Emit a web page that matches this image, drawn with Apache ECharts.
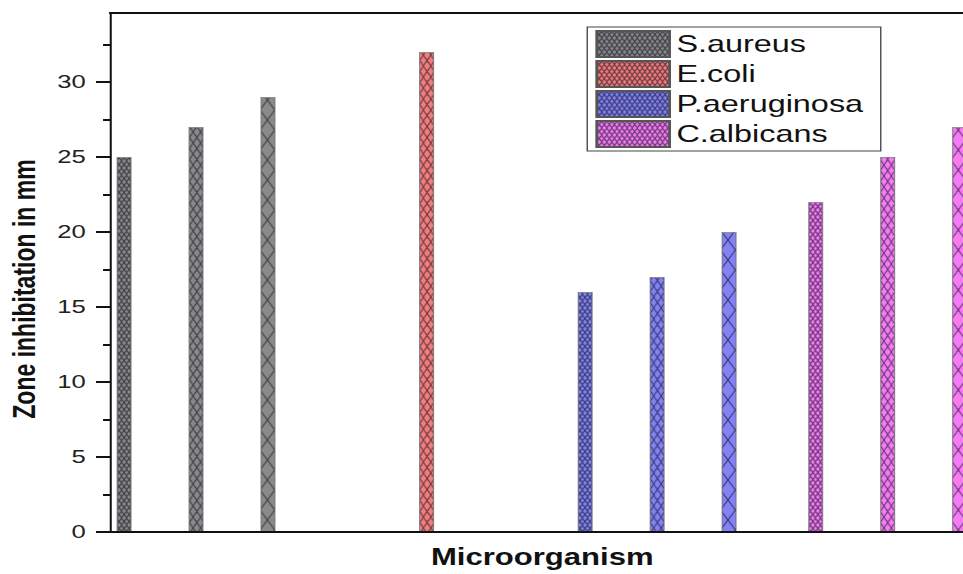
<!DOCTYPE html>
<html>
<head>
<meta charset="utf-8">
<script src="https://cdn.jsdelivr.net/npm/echarts@6/dist/echarts.min.js"></script>
<style>
  html, body { margin: 0; padding: 0; background: #fff; overflow: hidden; }
  #wrap { width: 963px; height: 574px; overflow: hidden; position: relative; }
  /* the figure is laid out narrow and stretched horizontally; its right end runs past the frame */
  #chart { width: 780px; height: 574px; transform: scaleX(1.3506); transform-origin: 0 0; }
</style>
</head>
<body>
<div id="wrap"><div id="chart"></div></div>
<script>
// Zone of inhibition (mm) for each microorganism, three samples per organism
const categories = ['S.aureus', 'E.coli', 'P.aeruginosa', 'C.albicans'];
const sample1 = [25, null, 16, 22];
const sample2 = [27, 32, 17, 25];
const sample3 = [29, null, 20, 27];
const yTicks = [0, 5, 10, 15, 20, 25, 30];

const FONT = '"Liberation Sans", Arial, sans-serif';
const fills = ['#8a8a8a', '#f47e7e', '#8282f4', '#f57cf5'];
// cross-hatch tile sizes (w, h) for the three samples: dense, medium, coarse
const hatchSizes = [[3.7, 7], [5.55, 11], [11.1, 20]];

function hatch(fill, w, h) {
  const k = 4;
  const c = document.createElement('canvas');
  c.width = Math.round(w * k);
  c.height = Math.round(h * k);
  const g = c.getContext('2d');
  g.fillStyle = fill;
  g.fillRect(0, 0, c.width, c.height);
  g.strokeStyle = 'rgba(15,15,30,0.7)';
  g.lineWidth = 0.8 * k;
  g.beginPath();
  g.moveTo(0, 0); g.lineTo(c.width, c.height);
  g.moveTo(c.width, 0); g.lineTo(0, c.height);
  g.stroke();
  return { image: c, repeat: 'repeat', scaleX: 1 / k, scaleY: 1 / k };
}

function barSeries(name, values, s) {
  return {
    name: name,
    type: 'bar',
    xAxisIndex: 0,
    yAxisIndex: 0,
    barWidth: 11.1,
    barGap: '380%',
    z: 2,
    data: values.map((v, i) => ({
      value: v == null ? '-' : v,
      itemStyle: {
        color: hatch(fills[i], hatchSizes[s][0], hatchSizes[s][1]),
        borderColor: 'rgba(110,110,110,0.8)',
        borderWidth: 0.8
      }
    }))
  };
}

// empty series that only provide the legend swatches
const legendSeries = categories.map((name, i) => ({
  name: name,
  type: 'bar',
  xAxisIndex: 1,
  yAxisIndex: 1,
  data: [],
  itemStyle: {
    color: hatch(fills[i], hatchSizes[0][0], hatchSizes[0][1]),
    borderColor: '#555',
    borderWidth: 1
  }
}));

const chart = echarts.init(document.getElementById('chart'), null, { renderer: 'svg' });

chart.setOption({
  animation: false,
  backgroundColor: '#fff',
  grid: [
    // bars
    { left: 59.8, width: 682.8, top: 13, bottom: 42 },
    // visible frame and axes
    { left: 81.5, width: 640, top: 13, bottom: 42 }
  ],
  xAxis: [
    { gridIndex: 0, type: 'category', data: categories, show: false },
    {
      gridIndex: 1, type: 'value', min: 0, max: 1, position: 'bottom', z: 5,
      axisLine: { show: true, lineStyle: { color: '#111', width: 2 } },
      axisTick: { show: false }, axisLabel: { show: false }, splitLine: { show: false },
      name: 'Microorganism', nameLocation: 'middle', nameGap: 14,
      nameTextStyle: { fontSize: 23, fontWeight: 'bold', color: '#111', fontFamily: FONT }
    },
    {
      gridIndex: 1, type: 'value', min: 0, max: 1, position: 'top', z: 5,
      axisLine: { show: true, lineStyle: { color: '#111', width: 2 } },
      axisTick: { show: false }, axisLabel: { show: false }, splitLine: { show: false }
    }
  ],
  yAxis: [
    { gridIndex: 0, type: 'value', min: 0, max: 34.6, show: false },
    {
      gridIndex: 1, type: 'value', min: 0, max: 34.6, interval: 5, z: 5,
      axisLine: { show: true, lineStyle: { color: '#111', width: 1.5 } },
      axisTick: { show: true, inside: false, length: 10.4, customValues: yTicks,
                  lineStyle: { color: '#111', width: 2 } },
      minorTick: { show: true, splitNumber: 2, length: 5.2, lineStyle: { color: '#111', width: 2 } },
      axisLabel: { customValues: yTicks, margin: 18, fontSize: 19, color: '#222', fontFamily: FONT },
      splitLine: { show: false }, minorSplitLine: { show: false }
    }
  ],
  legend: {
    data: categories,
    orient: 'vertical',
    left: 434.8,
    top: 27,
    icon: 'rect',
    itemWidth: 54,
    itemHeight: 26,
    itemGap: 2,
    padding: [3, 13, 3, 6],
    borderColor: '#444',
    borderWidth: 1,
    backgroundColor: '#fff',
    selectedMode: false,
    textStyle: { fontSize: 24, lineHeight: 24, color: '#111', fontFamily: FONT }
  },
  graphic: [{
    type: 'text',
    x: 18,
    y: 289,
    rotation: Math.PI / 2,
    style: {
      text: 'Zone inhibitation in mm',
      font: 'bold 23px ' + FONT,
      fill: '#111',
      align: 'center',
      verticalAlign: 'middle'
    }
  }],
  series: [
    barSeries('sample 1', sample1, 0),
    barSeries('sample 2', sample2, 1),
    barSeries('sample 3', sample3, 2)
  ].concat(legendSeries)
});
</script>
</body>
</html>
